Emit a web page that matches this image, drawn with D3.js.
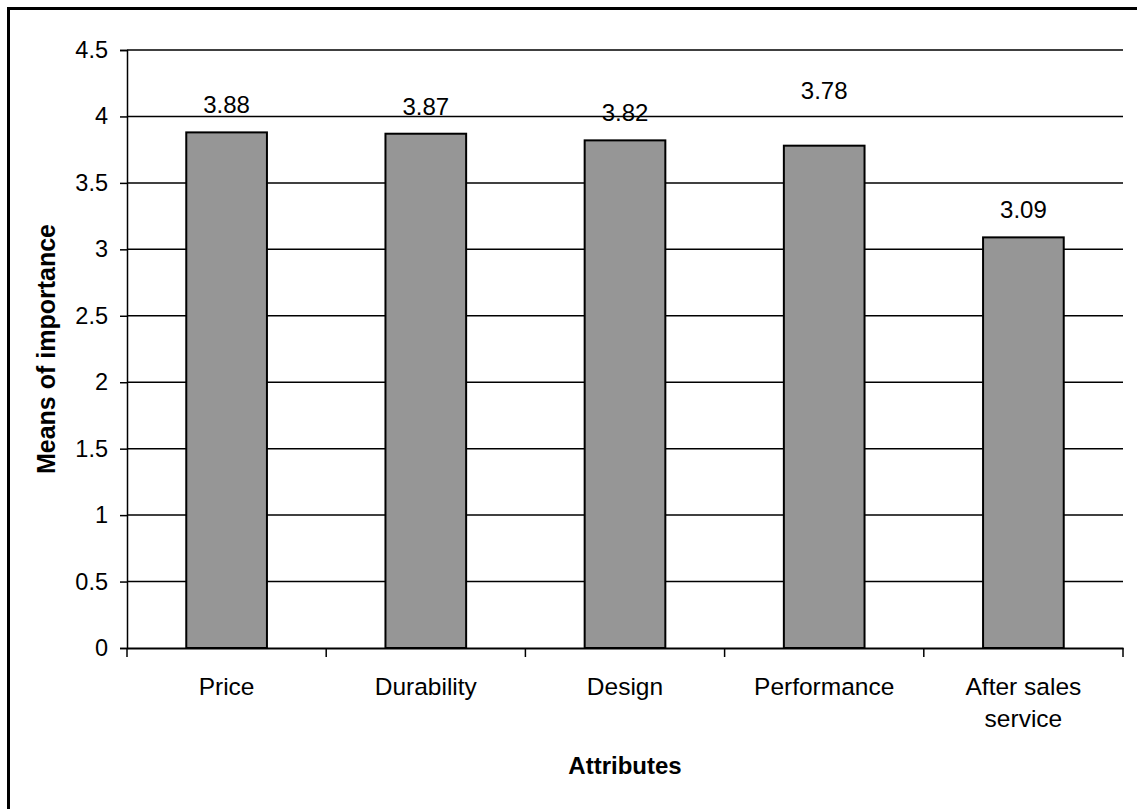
<!DOCTYPE html>
<html>
<head>
<meta charset="utf-8">
<script src="https://cdn.jsdelivr.net/npm/d3@7"></script>
<style>
  body { margin: 0; background: #fff; }
  svg text { font-family: "Liberation Sans", Arial, sans-serif; fill: #000; }
</style>
</head>
<body>
<svg id="chart" width="1137" height="809"></svg>
<script>
  // data
  let attributes = ['Price', 'Durability', 'Design', 'Performance', 'After sales service']
  let means = [3.88, 3.87, 3.82, 3.78, 3.09]
  let yTicks = [0, 0.5, 1, 1.5, 2, 2.5, 3, 3.5, 4, 4.5]

  let svg = d3.select('#chart')
  let margin = {left: 127, right: 14, top: 50, bottom: 161}
  let width = 1137, height = 809

  // outer frame (runs off the right/bottom edge like the original)
  svg.append('rect')
    .attr('x', 8.5).attr('y', 8.5)
    .attr('width', 1140).attr('height', 820)
    .attr('fill', 'none').attr('stroke', '#000').attr('stroke-width', 3)

  let x = d3.scaleBand()
    .domain(attributes)
    .range([margin.left, width - margin.right])

  let y = d3.scaleLinear()
    .domain([0, 4.5])
    .range([height - margin.bottom, margin.top])

  let g = svg.append('g')

  // gridlines
  g.selectAll('.grid')
    .data(yTicks.filter(d => d > 0))
    .enter()
    .append('line')
    .attr('x1', margin.left).attr('x2', width - margin.right)
    .attr('y1', d => y(d)).attr('y2', d => y(d))
    .attr('stroke', '#000').attr('stroke-width', 1.5)

  // bars
  let barW = x.bandwidth() * 0.405
  g.selectAll('.bar')
    .data(means)
    .enter()
    .append('rect')
    .attr('x', (d, i) => x(attributes[i]) + (x.bandwidth() - barW) / 2)
    .attr('y', d => y(d))
    .attr('width', barW)
    .attr('height', d => y(0) - y(d))
    .attr('fill', '#969696')
    .attr('stroke', '#000').attr('stroke-width', 2)

  // value labels (Performance label sits higher in the original)
  let lift = i => i === 3 ? 47 : 19
  g.selectAll('.val')
    .data(means)
    .enter()
    .append('text')
    .attr('x', (d, i) => x(attributes[i]) + x.bandwidth() / 2)
    .attr('y', (d, i) => y(d) - lift(i))
    .attr('text-anchor', 'middle')
    .style('font-size', '24px')
    .text(d => d.toFixed(2))

  // y axis
  let yAxis = g.append('g')
    .attr('transform', `translate(${margin.left},0)`)
    .call(d3.axisLeft(y).tickValues(yTicks).tickSize(7).tickPadding(12).tickFormat(d3.format('')))
  yAxis.select('.domain').attr('stroke', '#000').attr('stroke-width', 1.5)
  yAxis.selectAll('.tick line').attr('stroke', '#000').attr('stroke-width', 1.5)
  yAxis.selectAll('.tick text').style('font-size', '23.5px')
    .attr('font-family', null).attr('fill', '#000')

  // x axis
  let xAxis = g.append('g')
    .attr('transform', `translate(0,${y(0)})`)
    .call(d3.axisBottom(x).tickSize(0).tickFormat(''))
  xAxis.select('.domain').attr('stroke', '#000').attr('stroke-width', 2)
  xAxis.selectAll('.tick').remove()

  // ticks between categories
  let bounds = attributes.map(a => x(a)).concat([x.range()[1]])
  g.selectAll('.xtick')
    .data(bounds)
    .enter()
    .append('line')
    .attr('x1', d => d).attr('x2', d => d)
    .attr('y1', y(0)).attr('y2', y(0) + 9)
    .attr('stroke', '#000').attr('stroke-width', 1.5)

  // category labels (wrap the long one)
  let catLines = {'After sales service': ['After sales', 'service']}
  let cat = g.selectAll('.cat')
    .data(attributes)
    .enter()
    .append('text')
    .attr('x', d => x(d) + x.bandwidth() / 2)
    .attr('y', y(0) + 47)
    .attr('text-anchor', 'middle')
    .style('font-size', '24.5px')
  cat.each(function(d) {
    let lines = catLines[d] || [d]
    d3.select(this).selectAll('tspan')
      .data(lines)
      .enter()
      .append('tspan')
      .attr('x', x(d) + x.bandwidth() / 2)
      .attr('dy', (l, i) => i === 0 ? 0 : 32)
      .text(l => l)
  })

  // axis titles
  svg.append('text')
    .attr('x', (margin.left + width - margin.right) / 2)
    .attr('y', 774)
    .attr('text-anchor', 'middle')
    .style('font-size', '24px').style('font-weight', 'bold')
    .text('Attributes')

  svg.append('text')
    .attr('transform', `translate(55,${(y(0) + y(4.5)) / 2}) rotate(-90)`)
    .attr('text-anchor', 'middle')
    .style('font-size', '25px').style('font-weight', 'bold')
    .text('Means of importance')
</script>
</body>
</html>
